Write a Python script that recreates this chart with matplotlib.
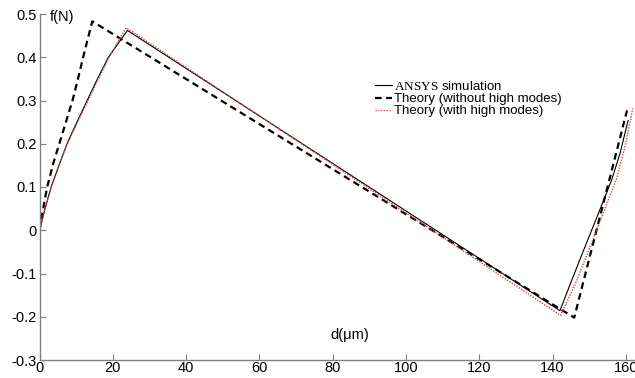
import matplotlib
matplotlib.use('Agg')
import matplotlib.pyplot as plt

plt.rcParams['font.family'] = ['Liberation Sans', 'DejaVu Sans']
plt.rcParams['mathtext.fontset'] = 'custom'
plt.rcParams['mathtext.rm'] = 'Liberation Serif'

# values
d_ansys = [0, 1.5, 3.2, 5.3, 7.5, 10.2, 13, 15.8, 18.8, 21.3, 24,
           142, 145.2, 148.8, 152.5, 156.1, 158.4, 160.6]
f_ansys = [0, 0.05, 0.1, 0.15, 0.2, 0.25, 0.3, 0.35, 0.4, 0.43, 0.462,
           -0.186, -0.116, -0.039, 0.039, 0.116, 0.178, 0.254]

d_theory = [0, 1, 2.1, 3.6, 5.4, 7.2, 9.0, 10.5, 11.9, 14.4, 145.9, 160.3]
f_theory = [0, 0.05, 0.1, 0.15, 0.2, 0.25, 0.3, 0.35, 0.4, 0.483, -0.202, 0.277]

d_high = [0, 1.5, 3.2, 5.3, 7.6, 10.4, 13.3, 16.1, 19, 21.3, 23.7,
          142.2, 146.6, 150.2, 153.8, 157.5, 159.8, 161.9]
f_high = [0, 0.05, 0.1, 0.15, 0.2, 0.25, 0.3, 0.35, 0.4, 0.435, 0.468,
          -0.197, -0.116, -0.039, 0.039, 0.12, 0.195, 0.282]

x_ticks = [0, 20, 40, 60, 80, 100, 120, 140, 160]
y_ticks = [0.5, 0.4, 0.3, 0.2, 0.1, 0, -0.1, -0.2, -0.3]
y_labels = ['0.5', '0.4', '0.3', '0.2', '0.1', '0', '-0.1', '-0.2', '-0.3']

fig = plt.figure(figsize=(6.35, 3.78), dpi=100)
ax = fig.add_axes([39.5 / 635, 18 / 378, 608.4 / 635, 346 / 378])

ax.plot(d_ansys, f_ansys, color='black', lw=0.8, label=r'$\mathrm{ANSYS}$ simulation')
ax.plot(d_theory, f_theory, color='black', lw=1.6, ls=(0, (3, 2)),
        label='Theory (without high modes)')
ax.plot(d_high, f_high, color='#d04848', lw=1.0, ls=(0, (1, 1)),
        label='Theory (with high modes)')

ax.set_xlim(0, 166)
ax.set_ylim(-0.3, 0.5)
ax.set_xticks(x_ticks)
ax.set_yticks(y_ticks)
ax.set_yticklabels(y_labels)

for s in ['top', 'right']:
    ax.spines[s].set_visible(False)
for s in ['left', 'bottom']:
    ax.spines[s].set_color('#808080')
    ax.spines[s].set_linewidth(1.0)
ax.tick_params(direction='in', length=4, width=0.8, color='#808080', labelsize=10.5)
ax.tick_params(axis='x', pad=1)
ax.tick_params(axis='y', pad=2)

ax.text(2.9, 0.4925, 'f(N)', fontsize=10.5, va='center', ha='left')
ax.text(84.7, -0.243, 'd(\u03bcm)', fontsize=10.5, va='center', ha='center')

ax.legend(loc='upper left', bbox_to_anchor=(375 / 635, 1 - 80 / 378),
          bbox_transform=fig.transFigure, frameon=False, fontsize=9.5,
          handlelength=1.3, handletextpad=0.15, labelspacing=0.0,
          borderpad=0, borderaxespad=0)

fig.savefig('out.png', dpi=100)
